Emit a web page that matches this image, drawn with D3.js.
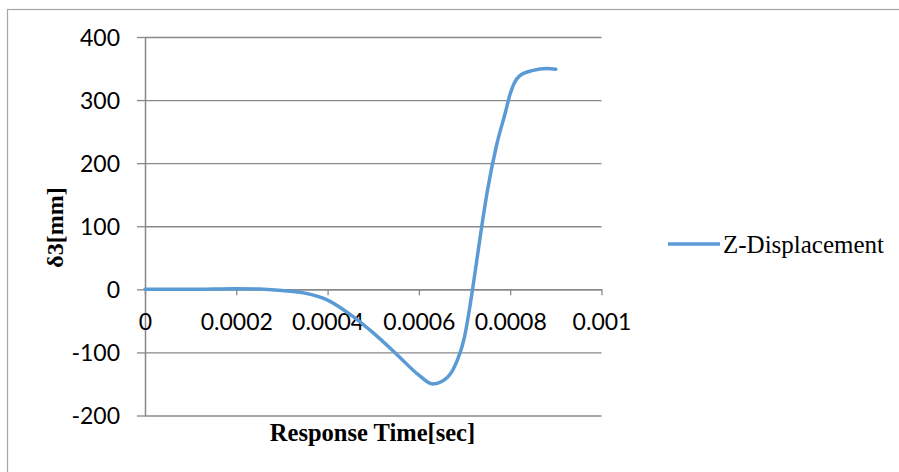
<!DOCTYPE html>
<html>
<head>
<meta charset="utf-8">
<script src="https://cdn.jsdelivr.net/npm/d3@7"></script>
<style>
  html, body { margin: 0; padding: 0; background: #fff; }
  svg { display: block; }
</style>
</head>
<body>
<div id="chart"></div>
<script>
// response time [sec] and Z displacement [mm]
const times = [0, 0.00005, 0.0001, 0.00015, 0.0002, 0.00025, 0.0003, 0.00035, 0.0004, 0.00045,
               0.0005, 0.00055, 0.0006, 0.00063, 0.00065, 0.000675, 0.0007, 0.00072, 0.00073,
               0.00074, 0.00075, 0.00077, 0.00079, 0.0008, 0.00082, 0.00085, 0.00088, 0.0009];
const zDisp = [0, 0, 0, 0.5, 1, 0.5, -2, -6, -17, -40,
               -69, -102, -136, -150, -146, -127, -75, 12, 62,
               111, 156, 228, 282, 310, 338, 347, 350, 349];
const xTicks = [0, 0.0002, 0.0004, 0.0006, 0.0008, 0.001];
const xTickLabels = ["0", "0.0002", "0.0004", "0.0006", "0.0008", "0.001"];
const yTicks = [-200, -100, 0, 100, 200, 300, 400];
const seriesName = "Z-Displacement";

const W = 899, H = 472;
const lineColor = "#5b9bd5";
const gridColor = "#898989";
const tickFont = "Lato, 'Open Sans', sans-serif";
const serif = "'Liberation Serif', 'Times New Roman', serif";

const svg = d3.select("#chart").append("svg")
    .attr("width", W)
    .attr("height", H);

// outer chart border (only top/left edges visible)
svg.append("rect")
    .attr("x", 7.5).attr("y", 9.5)
    .attr("width", W + 10).attr("height", H + 10)
    .attr("fill", "none")
    .attr("stroke", "#a6a6a6")
    .attr("stroke-width", 1.2);

const x = d3.scaleLinear().domain([0, 0.001]).range([145, 601.5]);
const y = d3.scaleLinear().domain([-200, 400]).range([415.5, 37]);

// horizontal gridlines
svg.append("g")
    .attr("transform", `translate(${x(0)},0)`)
    .call(d3.axisLeft(y).tickValues(yTicks).tickSize(-(x(0.001) - x(0))).tickFormat(""))
    .call(g => g.select(".domain").remove())
    .call(g => g.selectAll("line").attr("stroke", gridColor).attr("stroke-width", 1.3));

// y axis
svg.append("g")
    .attr("transform", `translate(${x(0)},0)`)
    .call(d3.axisLeft(y).tickValues(yTicks).tickSize(8).tickPadding(17).tickSizeOuter(0)
        .tickFormat(d => String(d)))
    .call(g => g.select(".domain").attr("stroke", gridColor).attr("stroke-width", 1.5))
    .call(g => g.selectAll("line").attr("stroke", gridColor).attr("stroke-width", 1.3))
    .call(g => g.selectAll("text")
        .attr("font-family", tickFont)
        .attr("font-size", 23)
        .attr("fill", "#000")
        .attr("dy", "0.36em"));

// x axis along zero
svg.append("g")
    .attr("transform", `translate(0,${y(0)})`)
    .call(d3.axisBottom(x).tickValues(xTicks).tickSize(6).tickSizeOuter(0)
        .tickFormat((d, i) => xTickLabels[i]))
    .call(g => g.select(".domain").attr("stroke", gridColor).attr("stroke-width", 1.5))
    .call(g => g.selectAll("line").attr("stroke", gridColor).attr("stroke-width", 1.3))
    .call(g => g.selectAll("text")
        .attr("font-family", tickFont)
        .attr("font-size", 23)
        .attr("fill", "#000")
        .attr("y", 0)
        .attr("dy", 0)
        .attr("transform", "translate(0,41)"));

// series line
const pts = times.map((t, i) => [t, zDisp[i]]);
const line = d3.line()
    .x(d => x(d[0]))
    .y(d => y(d[1]))
    .curve(d3.curveMonotoneX);

svg.append("path")
    .datum(pts)
    .attr("d", line)
    .attr("fill", "none")
    .attr("stroke", lineColor)
    .attr("stroke-width", 3.5)
    .attr("stroke-linecap", "round")
    .attr("stroke-linejoin", "round");

// axis titles
svg.append("text")
    .attr("x", 372.5).attr("y", 441)
    .attr("text-anchor", "middle")
    .attr("font-family", serif)
    .attr("font-weight", "bold")
    .attr("font-size", 24.5)
    .text("Response Time[sec]");

svg.append("text")
    .attr("transform", "translate(63,227.5) rotate(-90)")
    .attr("text-anchor", "middle")
    .attr("font-family", serif)
    .attr("font-weight", "bold")
    .attr("font-size", 24)
    .text("δ3[mm]");

// legend
const legend = svg.append("g").attr("transform", "translate(668,244)");
legend.append("line")
    .attr("x1", 0).attr("x2", 52)
    .attr("stroke", lineColor)
    .attr("stroke-width", 3.5);
legend.append("text")
    .attr("x", 55).attr("y", 9)
    .attr("font-family", serif)
    .attr("font-size", 25)
    .text(seriesName);
</script>
</body>
</html>
